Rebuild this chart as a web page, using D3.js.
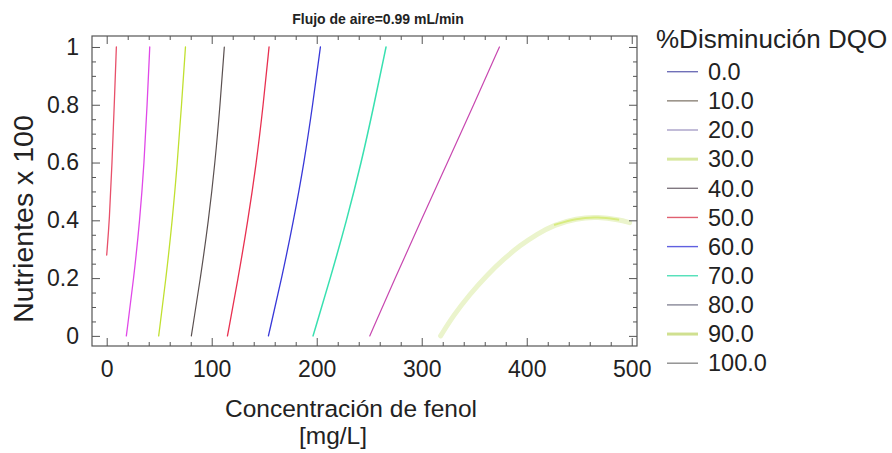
<!DOCTYPE html>
<html>
<head>
<meta charset="utf-8">
<script src="https://cdn.jsdelivr.net/npm/d3@7"></script>
<style>
  body { margin: 0; background: #fff; }
  text { font-family: "Liberation Sans", Arial, sans-serif; fill: #222; }
</style>
</head>
<body>
<svg id="chart" width="892" height="453"></svg>
<script>
// tick values
var xTicks = [0, 100, 200, 300, 400, 500];
var yTicks = [0, 0.2, 0.4, 0.6, 0.8, 1];

// legend levels and their colours
var levels = ["0.0", "10.0", "20.0", "30.0", "40.0", "50.0", "60.0", "70.0", "80.0", "90.0", "100.0"];
var legendColors = ["#7070b8", "#8c8478", "#a8a0c8", "#d8e8a0", "#807880", "#e06070",
                    "#6060e0", "#50e0b8", "#888898", "#d0e090", "#8c8c8c"];

// contour lines: [fenol, nutrientes]
var lineRed1 = [[0, 0.28], [2.6, 0.4], [5.1, 0.6], [7.2, 0.8], [9.2, 1]];
var lineMagenta = [[18.7, 0], [25.8, 0.2], [31.5, 0.4], [35.7, 0.6], [38.5, 0.8], [41, 1]];
var lineYellow = [[49.5, 0], [56.5, 0.2], [62.5, 0.4], [67.3, 0.6], [71.3, 0.8], [75, 1]];
var lineGray = [[80.6, 0], [89.3, 0.2], [97, 0.4], [103.2, 0.6], [108, 0.8], [112, 1]];
var lineRed2 = [[115, 0], [125.2, 0.2], [134.5, 0.4], [142.6, 0.6], [149.1, 0.8], [154.6, 1]];
var lineBlue = [[154, 0], [166.7, 0.2], [178, 0.4], [188, 0.6], [196.2, 0.8], [203.5, 1]];
var lineAqua = [[196.5, 0], [213, 0.2], [228.5, 0.4], [242.5, 0.6], [254.6, 0.8], [266, 1]];
var linePink = [[250.5, 0], [274.7, 0.2], [299.4, 0.4], [324.5, 0.6], [349.5, 0.8], [374, 1]];
var lineArc = [[318, 0], [330, 0.07], [346, 0.145], [362, 0.21], [378, 0.266],
               [394, 0.314], [410, 0.353], [426, 0.384], [447, 0.407],
               [468, 0.412], [488, 0.402], [498, 0.392]];

var contours = [
  { pts: lineRed1, color: "#e8506a", w: 1.3 },
  { pts: lineMagenta, color: "#e048e8", w: 1.3 },
  { pts: lineYellow, color: "#c0e030", w: 1.3 },
  { pts: lineGray, color: "#5a5050", w: 1.2 },
  { pts: lineRed2, color: "#e83050", w: 1.3 },
  { pts: lineBlue, color: "#3838d8", w: 1.3 },
  { pts: lineAqua, color: "#38e0b0", w: 1.5 },
  { pts: linePink, color: "#c848b0", w: 1.2 },
  { pts: lineArc, color: "#ebf4cc", w: 5 }
];

var svg = d3.select("#chart");

// plot frame
var pLeft = 92, pRight = 637, pTop = 36, pBottom = 346;

var x = d3.scaleLinear().domain([-14, 505]).range([pLeft, pRight]);
var y = d3.scaleLinear().domain([-0.035, 1.038]).range([pBottom, pTop]);

var xMinor = d3.range(0, 501, 20).filter(d => d % 100 !== 0);
var yMinor = d3.range(0, 21).map(d => d * 0.05).filter(d => Math.round(d * 100) % 20 !== 0);

// clip to plot area
svg.append("clipPath").attr("id", "clip")
  .append("rect").attr("x", pLeft).attr("y", pTop)
  .attr("width", pRight - pLeft).attr("height", pBottom - pTop);

// contour lines
var line = d3.line()
  .x(d => x(d[0]))
  .y(d => y(d[1]))
  .curve(d3.curveBasis);

var plot = svg.append("g").attr("clip-path", "url(#clip)");

plot.selectAll("path")
  .data(contours)
  .join("path")
  .attr("d", d => line(d.pts))
  .attr("fill", "none")
  .attr("stroke", d => d.color)
  .attr("stroke-width", d => d.w)
  .attr("stroke-linecap", "round");

// brighter core on the top of the arc
plot.append("path")
  .attr("d", line(lineArc.slice(7, 11)))
  .attr("fill", "none")
  .attr("stroke", "#d8ec80")
  .attr("stroke-width", 2);

// axes with inward ticks
function drawAxis(axisFn, scale, pos, major, minor, labels, pad) {
  var g = svg.append("g").attr("transform", pos);
  g.call(axisFn(scale).tickValues(minor).tickSize(-4).tickFormat(""));
  var g2 = svg.append("g").attr("transform", pos);
  var ax = axisFn(scale).tickValues(major).tickSize(-8).tickPadding(pad);
  if (!labels) ax.tickFormat("");
  g2.call(ax);
  [g, g2].forEach(s => {
    s.select(".domain").remove();
    s.selectAll("line").attr("stroke", "#555");
  });
  g2.selectAll("text").style("font-size", "23px").attr("fill", "#222");
  return g2;
}

drawAxis(d3.axisBottom, x, "translate(0," + pBottom + ")", xTicks, xMinor, true, 15);
drawAxis(d3.axisTop, x, "translate(0," + pTop + ")", xTicks, xMinor, false, 0);
drawAxis(d3.axisLeft, y, "translate(" + pLeft + ",0)", yTicks, yMinor, true, 13)
  .selectAll("text").text(d => d3.format("~g")(d));
drawAxis(d3.axisRight, y, "translate(" + pRight + ",0)", yTicks, yMinor, false, 0);

svg.append("rect")
  .attr("x", pLeft).attr("y", pTop)
  .attr("width", pRight - pLeft).attr("height", pBottom - pTop)
  .attr("fill", "none").attr("stroke", "#555").attr("stroke-width", 1.2);

// titles
svg.append("text")
  .attr("x", 378).attr("y", 24)
  .attr("text-anchor", "middle")
  .style("font-size", "14px").style("font-weight", "bold")
  .text("Flujo de aire=0.99 mL/min");

svg.append("text")
  .attr("x", 351).attr("y", 417)
  .attr("text-anchor", "middle")
  .style("font-size", "24.5px")
  .text("Concentración de fenol");

svg.append("text")
  .attr("x", 333).attr("y", 444)
  .attr("text-anchor", "middle")
  .style("font-size", "24.5px")
  .text("[mg/L]");

svg.append("text")
  .attr("transform", "translate(33,219) rotate(-90)")
  .attr("text-anchor", "middle")
  .style("font-size", "28.5px")
  .text("Nutrientes x 100");

// legend
svg.append("text")
  .attr("x", 656).attr("y", 48)
  .style("font-size", "26px")
  .text("%Disminución DQO");

var legend = svg.append("g")
  .selectAll("g")
  .data(levels)
  .join("g")
  .attr("transform", (d, i) => "translate(0," + (71.7 + i * 29.15) + ")");

legend.append("line")
  .attr("x1", 667).attr("x2", 698)
  .attr("stroke", (d, i) => legendColors[i])
  .attr("stroke-width", (d, i) => (i === 3 || i === 9) ? 3 : 1.4);

legend.append("text")
  .attr("x", 708).attr("dy", "0.35em")
  .style("font-size", "23.5px")
  .text(d => d);
</script>
</body>
</html>
